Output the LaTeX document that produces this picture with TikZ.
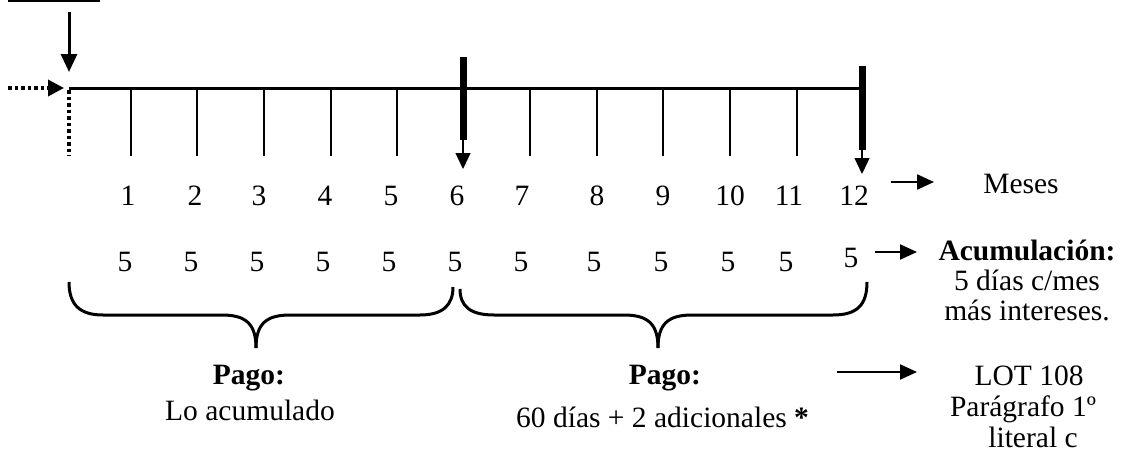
\documentclass[tikz,border=0pt]{standalone}
\usepackage{fontspec}
\setmainfont{Liberation Serif}
\usetikzlibrary{arrows.meta}
\tikzset{
  txt/.style={font=\fontsize{29.5}{32}\selectfont, inner sep=0pt, anchor=base},
  mtxt/.style={font=\fontsize{29.5}{32}\selectfont, inner sep=0pt, anchor=base, align=center},
  axis/.style={line width=3pt},
  tick/.style={line width=1.3pt},
  bar/.style={line width=7pt},
  brace/.style={line width=3pt},
  bigarrow/.style={line width=3pt, -{Triangle[length=18pt,width=16pt]}},
  smallarrow/.style={line width=1.3pt, -{Triangle[length=16pt,width=15pt]}},
  sidearrow/.style={line width=2.2pt, -{Triangle[length=17pt,width=15pt]}},
  dotarrow/.style={line width=3.5pt, dash pattern=on 3.5pt off 3pt, -{Triangle[length=16pt,width=16pt]}},
  dotline/.style={line width=3.5pt, dash pattern=on 3.5pt off 3pt}
}
\begin{document}
\begin{tikzpicture}[x=1pt,y=-1pt]
\useasboundingbox (0,0) rectangle (1123,455);
% fragment of underline at top
\draw[line width=1.5pt] (8,0.8) -- (100,0.8);
% axis
\coordinate (o) at (69,88);
\coordinate (e) at (862,88);
\draw[axis] (o) -- (e);
% ticks
\foreach \i/\x in {1/131,2/197,3/264,4/331,5/397,7/530,8/597,9/663,10/730,11/797}{
  \coordinate (t\i) at (\x,88);
  \coordinate (b\i) at (\x,156);
  \draw[tick] (t\i) -- (b\i);
}
% start arrows
\coordinate (sa) at (69,12);
\coordinate (sb) at (69,72);
\draw[bigarrow] (sa) -- (sb);
\coordinate (da) at (8,88);
\coordinate (db) at (64,88);
\draw[dotarrow] (da) -- (db);
\coordinate (dv) at (69,156);
\draw[dotline] (69,90) -- (dv);
% month 6 bar
\coordinate (b6a) at (463,57);
\coordinate (b6b) at (463,140);
\coordinate (b6c) at (463,169);
\draw[bar] (b6a) -- (b6b);
\draw[smallarrow] (b6b) -- (b6c);
% month 12 bar
\coordinate (b12a) at (862,66);
\coordinate (b12b) at (862,150);
\coordinate (b12c) at (862,174);
\draw[bar] (b12a) -- (b12b);
\draw[smallarrow] (b12b) -- (b12c);
% month numbers
\foreach \n/\x in {1/128,2/195,3/259,4/325,5/391,6/457,7/522,8/597,9/663,10/730,11/789,12/854}{
  \node[txt] (n\n) at (\x,205) {\n};
}
% accumulation row
\foreach \n/\x in {1/125,2/191,3/257,4/323,5/389,6/455,7/521,8/594,9/661,10/728,11/786}{
  \node[txt] (a\n) at (\x,271) {5};
}
\node[txt] (a12) at (851,267) {5};
% braces
\draw[brace] (69,282) .. controls (69,305) and (80,315) .. (103,315) -- (222,315)
  .. controls (246,315) and (256,324) .. (256,348);
\draw[brace] (256,348) .. controls (256,324) and (266,315) .. (290,315) -- (420,315)
  .. controls (443,315) and (453,305) .. (453,287);
\draw[brace] (460,289) .. controls (460,306) and (470,315) .. (494,315) -- (624,315)
  .. controls (648,315) and (658,324) .. (658,348);
\draw[brace] (658,348) .. controls (658,324) and (668,315) .. (692,315) -- (833,315)
  .. controls (857,315) and (867,305) .. (867,282);
% payment labels
\node[mtxt] (p1) at (249,384) {\textbf{Pago:}};
\node[txt] (p1b) at (250,420) {Lo acumulado};
\node[mtxt] (p2) at (665,384) {\textbf{Pago:}};
\node[txt, anchor=base west] (p2b) at (516,427) {60 días + 2 adicionales \textbf{*}};
% right column
\node[txt] (meses) at (1021,193) {Meses};
\node[txt] (acum) at (1027,260) {\textbf{Acumulación:}};
\node[txt] (acum2) at (1027,290) {5 días c/mes};
\node[txt] (acum3) at (1027,320) {más intereses.};
\node[txt] (lot) at (1029,385) {LOT 108};
\node[txt] (lot2) at (1023,416) {Parágrafo 1º};
\node[txt] (lot3) at (1033,447) {literal c};
% side arrows
\coordinate (ma) at (891,182);
\coordinate (mb) at (934,182);
\draw[sidearrow] (ma) -- (mb);
\coordinate (aa) at (875,252);
\coordinate (ab) at (917,252);
\draw[sidearrow] (aa) -- (ab);
\coordinate (la) at (837,372);
\coordinate (lb) at (917,372);
\draw[sidearrow] (la) -- (lb);
\end{tikzpicture}
\end{document}
